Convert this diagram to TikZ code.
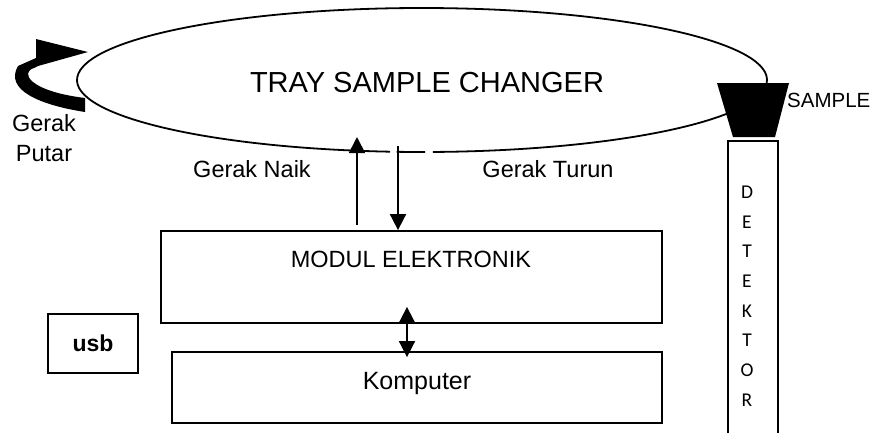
\documentclass[tikz,border=0pt]{standalone}
\usepackage{fontspec}
\setmainfont{Liberation Sans}
\newfontfamily\detfont{Carlito}
\usetikzlibrary{arrows.meta,positioning,calc}

\begin{document}
\begin{tikzpicture}[x=1pt,y=-1pt,
  box/.style={draw,line width=1.8pt,inner sep=0pt},
  lbl/.style={inner sep=0pt,font=\fontsize{23.5}{28}\selectfont},
  arr/.style={line width=1.8pt,>={Triangle[width=16pt,length=16pt]}}]
\useasboundingbox (0,0) rectangle (873,432);
% tray
\node[lbl,font=\fontsize{29}{34}\selectfont,anchor=base] (tray) at (427,92) {TRAY SAMPLE CHANGER};
\coordinate (tray-c) at (422,80);
\draw[line width=1.8pt] (tray-c) ++(95.3:345 and 72) arc[start angle=95.3,end angle=448.2,x radius=345,y radius=72];
\draw[line width=1.8pt] (tray-c) ++(89.5:345 and 72) arc[start angle=89.5,end angle=94.2,x radius=345,y radius=72];
\fill (717,83) -- (789,83) -- (775,137) -- (733,137) -- cycle;
\node[lbl,font=\fontsize{20.5}{24}\selectfont,anchor=base west] (sample) at (787,107) {SAMPLE};
% rotation
\fill (85,112) .. controls (40,105) and (4,90) .. (18,66) -- (36,58) -- (36,39) -- (88,52) -- (38,66) -- (34,68) .. controls (20,72) and (28,91) .. (85,98) -- cycle;
\node[lbl,align=center,font=\fontsize{23.5}{30}\selectfont] (putar) at (44,138) {Gerak\\Putar};
\node[lbl,anchor=base] (naik-lbl) at (252,177) {Gerak Naik};
\node[lbl,anchor=base] (turun-lbl) at (548,177) {Gerak Turun};
% boxes
\node[box,minimum width=501pt,minimum height=92pt] (modul) at (411.5,277) {};
\node[lbl,anchor=base] (modul-lbl) at (411,267) {MODUL ELEKTRONIK};
\node[box,minimum width=490pt,minimum height=71pt] (komputer) at (417,387.5) {};
\node[lbl,font=\fontsize{25}{30}\selectfont,anchor=base] (komputer-lbl) at (417,389) {Komputer};
\node[box,minimum width=90pt,minimum height=59pt,font=\bfseries\fontsize{23}{28}\selectfont] (usb) at (93,343.5) {usb};
\node[box,minimum width=50pt,minimum height=304pt] (detektor) at (753,293) {};
\node[inner sep=0pt,align=center,font=\detfont\fontsize{19.5}{29.7}\selectfont] (detektor-lbl) at (747,296) {D\\E\\T\\E\\K\\T\\O\\R};
% arrows
\coordinate (naik) at (357,137);
\coordinate (turun) at (398,146);
\coordinate (link) at (407,0);
\draw[arr,->] ($(modul.north -| naik)+(0,-5)$) -- (naik);
\draw[arr,->] (turun) -- (modul.north -| turun);
\draw[arr,<->] ($(modul.south -| link)+(0,-17)$) -- ($(komputer.north -| link)+(0,6)$);
\end{tikzpicture}
\end{document}
